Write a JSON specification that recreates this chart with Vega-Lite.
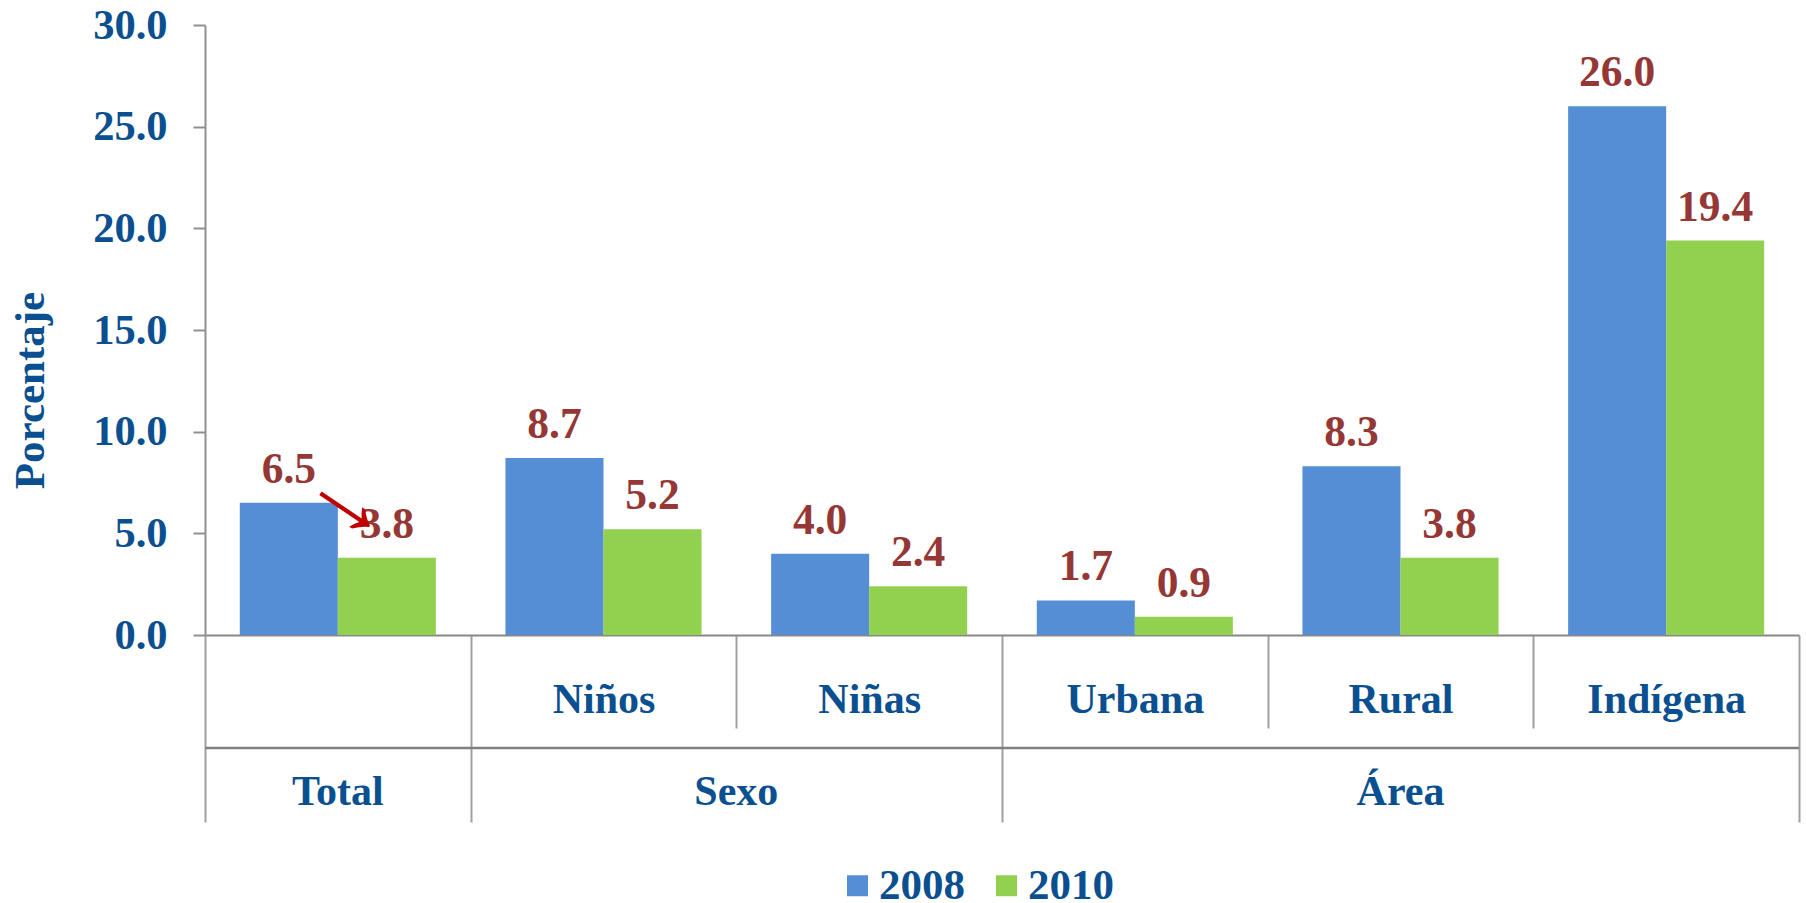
{
  "$schema": "https://vega.github.io/schema/vega-lite/v6.json",
  "width": 1594,
  "height": 610,
  "autosize": {"type": "none"},
  "padding": {"left": 205, "top": 25, "right": 7, "bottom": 268},
  "background": "white",
  "title": {
    "text": "17. 2008 y 2010",
    "font": "Lato",
    "fontSize": 42,
    "fontWeight": "bold",
    "color": "#31609E",
    "anchor": "middle",
    "baseline": "alphabetic",
    "offset": -12,
    "dx": -63
  },
  "config": {
    "view": {"stroke": null},
    "font": "Liberation Serif"
  },
  "datasets": {
    "bars": [
      {"cat": "Total", "year": "2008", "value": 6.5},
      {"cat": "Total", "year": "2010", "value": 3.8},
      {"cat": "Niños", "year": "2008", "value": 8.7},
      {"cat": "Niños", "year": "2010", "value": 5.2},
      {"cat": "Niñas", "year": "2008", "value": 4.0},
      {"cat": "Niñas", "year": "2010", "value": 2.4},
      {"cat": "Urbana", "year": "2008", "value": 1.7},
      {"cat": "Urbana", "year": "2010", "value": 0.9},
      {"cat": "Rural", "year": "2008", "value": 8.3},
      {"cat": "Rural", "year": "2010", "value": 3.8},
      {"cat": "Indígena", "year": "2008", "value": 26.0},
      {"cat": "Indígena", "year": "2010", "value": 19.4}
    ],
    "groupsCenter": [
      {"grp": "Total", "anchor": "Total"},
      {"grp": "Área", "anchor": "Rural"}
    ],
    "groupsEdge": [
      {"grp": "Sexo", "anchor": "Niños"}
    ],
    "one": [{"k": 1}]
  },
  "layer": [
    {
      "data": {"name": "bars"},
      "mark": {"type": "bar"},
      "encoding": {
        "x": {
          "field": "cat",
          "type": "nominal",
          "sort": null,
          "title": null,
          "scale": {"domain": ["Total", "Niños", "Niñas", "Urbana", "Rural", "Indígena"], "paddingInner": 0, "paddingOuter": 0},
          "axis": {
            "title": null,
            "domainColor": "#888888",
            "domainWidth": 2,
            "tickColor": "#A0A0A0",
            "tickWidth": 2,
            "tickBand": "extent",
            "tickSize": {"condition": {"test": "datum.value === 'Niños' || datum.value === 'Urbana' || datum.value === 'Rural'", "value": 93}, "value": 187},
            "labelPadding": {"condition": {"test": "datum.value === 'Niños' || datum.value === 'Urbana' || datum.value === 'Rural'", "value": -16}, "value": -110},
            "labelBaseline": "alphabetic",
            "labelAngle": 0,
            "labelFont": "Liberation Serif",
            "labelFontSize": 42,
            "labelFontWeight": "bold",
            "labelColor": "#0A5090",
            "labelLimit": 400,
            "labelExpr": "datum.value === 'Total' ? '' : datum.value"
          }
        },
        "xOffset": {
          "field": "year",
          "type": "nominal",
          "scale": {"paddingInner": 0, "paddingOuter": 0.355}
        },
        "y": {
          "field": "value",
          "type": "quantitative",
          "title": "Porcentaje",
          "scale": {"domain": [0, 30], "nice": false},
          "axis": {
            "values": [0, 5, 10, 15, 20, 25, 30],
            "format": ".1f",
            "grid": false,
            "labelFont": "Liberation Serif",
            "labelFontSize": 42.5,
            "labelFontWeight": "bold",
            "labelColor": "#0A5090",
            "labelPadding": 26,
            "tickSize": 12,
            "tickColor": "#909090",
            "tickWidth": 2,
            "domainColor": "#909090",
            "domainWidth": 2,
            "title": "Porcentaje",
            "titleFont": "Liberation Serif",
            "titleFontSize": 43,
            "titleFontWeight": "bold",
            "titleColor": "#0A5090",
            "titleAngle": -90,
            "titleAlign": "center",
            "titleBaseline": "alphabetic",
            "titleX": -162,
            "titleY": 365
          }
        },
        "color": {
          "field": "year",
          "type": "nominal",
          "scale": {"domain": ["2008", "2010"], "range": ["#558ED5", "#92D050"]},
          "legend": {
            "title": null,
            "orient": "none",
            "direction": "horizontal",
            "legendX": 631,
            "legendY": 839,
            "padding": 0,
            "symbolType": "square",
            "symbolSize": 441,
            "symbolStrokeWidth": 0,
            "labelFont": "Liberation Serif",
            "labelFontSize": 43,
            "labelFontWeight": "bold",
            "labelColor": "#0A5090",
            "labelOffset": 0,
            "columnPadding": 20
          }
        }
      }
    },
    {
      "data": {"name": "bars"},
      "mark": {"type": "text", "dy": -20, "baseline": "alphabetic", "align": "center", "font": "Liberation Serif", "fontSize": 43.5, "fontWeight": "bold", "color": "#953735"},
      "encoding": {
        "x": {"field": "cat", "type": "nominal", "sort": null, "title": null, "scale": {"domain": ["Total", "Niños", "Niñas", "Urbana", "Rural", "Indígena"]}},
        "xOffset": {"field": "year", "type": "nominal"},
        "y": {"field": "value", "type": "quantitative", "title": "Porcentaje"},
        "text": {"field": "value", "type": "quantitative", "format": ".1f"}
      }
    },
    {
      "data": {"name": "one"},
      "mark": {"type": "text", "text": "→", "font": "Liberation Sans", "fontSize": 100, "color": "#C00000", "angle": 34, "align": "center", "baseline": "middle"},
      "encoding": {
        "x": {"datum": "Total", "type": "nominal", "bandPosition": 0.555, "title": null, "scale": {"domain": ["Total", "Niños", "Niñas", "Urbana", "Rural", "Indígena"]}},
        "y": {"datum": 6.71, "type": "quantitative", "title": "Porcentaje"}
      }
    },
    {
      "data": {"name": "groupsCenter"},
      "mark": {"type": "text", "dy": 170, "baseline": "alphabetic", "align": "center", "font": "Liberation Serif", "fontSize": 42, "fontWeight": "bold", "color": "#0A5090"},
      "encoding": {
        "x": {"field": "anchor", "type": "nominal", "sort": null, "title": null, "scale": {"domain": ["Total", "Niños", "Niñas", "Urbana", "Rural", "Indígena"]}},
        "y": {"datum": 0, "type": "quantitative", "title": "Porcentaje"},
        "text": {"field": "grp", "type": "nominal"}
      }
    },
    {
      "data": {"name": "groupsEdge"},
      "mark": {"type": "text", "dy": 170, "baseline": "alphabetic", "align": "center", "font": "Liberation Serif", "fontSize": 42, "fontWeight": "bold", "color": "#0A5090"},
      "encoding": {
        "x": {"field": "anchor", "type": "nominal", "sort": null, "bandPosition": 1, "title": null, "scale": {"domain": ["Total", "Niños", "Niñas", "Urbana", "Rural", "Indígena"]}},
        "y": {"datum": 0, "type": "quantitative", "title": "Porcentaje"},
        "text": {"field": "grp", "type": "nominal"}
      }
    },
    {
      "data": {"name": "one"},
      "mark": {"type": "rule", "yOffset": 113, "color": "#808080", "strokeWidth": 2.5},
      "encoding": {
        "y": {"datum": 0, "type": "quantitative", "title": "Porcentaje"}
      }
    }
  ]
}
